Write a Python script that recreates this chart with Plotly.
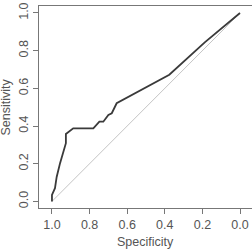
import plotly.graph_objects as go

# ROC curve values (x = specificity, y = sensitivity)
specificity = [1.0, 1.0, 0.984, 0.975, 0.957, 0.94, 0.926, 0.926, 0.887, 0.78,
               0.748, 0.727, 0.70, 0.682, 0.665, 0.656, 0.376, 0.345, 0.186, 0.0]
sensitivity = [0.0, 0.034, 0.07, 0.13, 0.203, 0.256, 0.309, 0.358, 0.388, 0.388,
               0.423, 0.423, 0.459, 0.468, 0.503, 0.521, 0.672, 0.700, 0.845, 1.0]
diag_x = [1.0, 0.0]
diag_y = [0.0, 1.0]
tick_vals = [0.0, 0.2, 0.4, 0.6, 0.8, 1.0]
tick_text = ["0.0", "0.2", "0.4", "0.6", "0.8", "1.0"]

fig = go.Figure()
fig.add_trace(go.Scatter(x=diag_x, y=diag_y, mode="lines",
                         line=dict(color="#c4c4c4", width=1), hoverinfo="skip"))
fig.add_trace(go.Scatter(x=specificity, y=sensitivity, mode="lines",
                         line=dict(color="#3a3a3a", width=1.8)))

axis_common = dict(
    showgrid=False, zeroline=False, showline=True, linecolor="#777777", linewidth=1.3,
    mirror=True, ticks="outside", ticklen=5, tickcolor="#777777", tickwidth=1,
    tickvals=tick_vals, ticktext=tick_text,
    tickfont=dict(family="Liberation Sans, Arial, sans-serif", size=12.5, color="#555555"),
)

fig.update_layout(
    width=252, height=250,
    margin=dict(l=39, r=0, t=6, b=42),
    paper_bgcolor="white", plot_bgcolor="white",
    showlegend=False,
    xaxis=dict(range=[1.069, -0.0638], **axis_common),
    yaxis=dict(range=[-0.035, 1.037], tickangle=-90, **axis_common),
    annotations=[
        dict(text="Specificity", xref="paper", yref="paper", x=0.5, y=0,
             yshift=-33.5, showarrow=False, xanchor="center", yanchor="middle",
             font=dict(family="Liberation Sans, Arial, sans-serif", size=12.5, color="#555555")),
        dict(text="Sensitivity", xref="paper", yref="paper", x=0, y=0.5,
             xshift=-33.5, textangle=-90, showarrow=False, xanchor="center", yanchor="middle",
             font=dict(family="Liberation Sans, Arial, sans-serif", size=12.5, color="#555555")),
    ],
)

fig.write_html("out.html")
